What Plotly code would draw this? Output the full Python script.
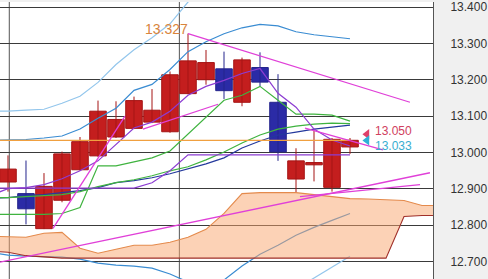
import plotly.graph_objects as go

# ---------------- data ----------------
candle_idx = list(range(20))
opens = [12.9185, 12.8866, 12.7901, 12.8683, 12.9522, 12.9904, 13.0423, 13.0661, 13.0833, 13.0568,
         13.1617, 13.2000, 13.2300, 13.1379, 13.2336, 13.1379, 12.9267, 12.9658, 12.9038, 13.0150]
highs = [12.9918, 12.9776, 12.9431, 13.0022, 13.0423, 13.1426, 13.1407, 13.1535, 13.1743, 13.2226,
         13.3270, 13.2819, 13.2773, 13.2609, 13.2754, 13.2153, 13.0114, 13.0606, 13.0396, 13.0396]
lows = [12.8920, 12.8019, 12.7890, 12.8628, 12.9494, 12.9877, 13.0396, 13.0642, 13.0806, 13.0541,
        13.1598, 13.1863, 13.1470, 13.1270, 13.1817, 12.9767, 12.8901, 12.9202, 12.8920, 12.9959]
closes = [12.9541, 12.8448, 12.9065, 12.9959, 13.0295, 13.1134, 13.0907, 13.1426, 13.1161, 13.2136,
          13.2519, 13.2472, 13.1699, 13.2546, 13.1934, 13.0013, 12.9767, 12.9721, 13.0360, 13.0333]

line_idx = list(range(-1, 20))
bb_up2 = [13.1134, 13.1134, 13.1161, 13.1188, 13.1352, 13.1543, 13.1926, 13.2418, 13.2827, 13.3155,
          13.3538, 13.4139, 13.455, None, None, None, None, None, None, None, None]
bb_up1 = [13.0328, 13.0341, 13.0355, 13.0396, 13.0451, 13.0642, 13.0942, 13.1215, 13.1707, 13.1871,
          13.2281, 13.2773, 13.3046, 13.3265, 13.3429, 13.3524, 13.3483, 13.3320, 13.3237, 13.3183, 13.3128]
bb_mid = [12.8729, 12.8757, 12.8811, 12.8838, 12.8893, 12.8948, 12.9030, 12.9166, 12.9221, 12.9303,
          12.9412, 12.9549, 12.9686, 12.9850, 13.0123, 13.0314, 13.0478, 13.0560, 13.0642, 13.0697, 13.0751]
bb_lo1 = [12.7254, 12.7172, 12.7144, 12.7130, 12.7117, 12.7062, 12.6953, 12.6898, 12.6871, 12.6817,
          12.6653, 12.6434, 12.6352, 12.6489, 12.6871, 12.7199, 12.7445, 12.7718, 12.7937, 12.8128, 12.8319]
bb_lo2 = [None, None, None, None, None, None, None, None, None, None,
          None, None, None, None, None, 12.5640, 12.5942, 12.6243, 12.6543, 12.6844, 12.7144]
ma_green_a = [12.8292, 12.8292, 12.8292, 12.8292, 12.8319, 12.8483, 12.9631, 12.9631, 12.9740, 12.9850,
              13.0040, 13.0505, 13.0997, 13.1434, 13.1571, 13.1817, 13.1434, 13.1052, 13.1052, 13.1024, 13.0860]
ma_green_b = [12.8757, 12.8757, 12.8784, 12.8811, 12.8838, 12.8920, 12.9057, 12.9166, 12.9248, 12.9358,
              12.9494, 12.9604, 12.9795, 13.0013, 13.0260, 13.0478, 13.0642, 13.0724, 13.0778, 13.0806, 13.0792]
ma_purple_a = [12.8811, 12.9002, 12.9030, 12.9112, 12.9276, 12.9494, 12.9767, 13.0205, 13.0670, 13.0833,
               13.1134, 13.1571, 13.1817, 13.1981, 13.2172, 13.2308, 13.1625, 13.1243, 13.0643, 13.0341, 13.0177]
ma_purple_b = [12.9016, 12.9016, 12.9016, 12.9016, 12.9016, 12.9016, 12.9016, 12.9016, 12.9016, 12.9166,
               12.9494, 12.9931, 12.9931, 12.9931, 12.9931, 12.9931, 12.9931, 12.9931, 12.9931, 12.9931, 12.9931]

cloud_idx = list(range(-1, 25))
cloud_top = [12.7691, 12.7677, 12.7664, 12.7773, 12.7800, 12.7363, 12.7226, 12.7336, 12.7445, 12.7445,
             12.7527, 12.7664, 12.7882, 12.8319, 12.8866, 12.8893, 12.8893, 12.8893, 12.8838, 12.8784,
             12.8729, 12.8716, 12.8702, 12.8675, 12.8538, 12.8538]
cloud_bot = [12.7281, 12.7254, 12.7158, 12.7117, 12.7090, 12.7090, 12.7090, 12.7090, 12.7090, 12.7090,
             12.7090, 12.7090, 12.7090, 12.7090, 12.7090, 12.7090, 12.7090, 12.7090, 12.7090, 12.7090,
             12.7090, 12.7090, 12.7090, 12.8237, 12.8265, 12.8265]

last_price = 13.033
ask_price = 13.050
peak_label = "13.327"
peak_idx = 10

# drawn trendlines (index, price)
trend_lines = [
    ([10, 22.33], [13.327, 13.138]),
    ([-1, 23.44], [12.6924, 12.944]),
    ([16.22, 22.89], [12.8784, 12.9112]),
    ([2.5, 6.5], [12.791, 13.0997]),
    ([7.5, 11.67], [13.0642, 13.1325]),
    ([16.5, 20.83], [13.067, 13.0068]),
]
y_ticks = [12.7, 12.8, 12.9, 13.0, 13.1, 13.2, 13.3, 13.4]
y_tick_text = ["12.700", "12.800", "12.900", "13.000", "13.100", "13.200", "13.300", "13.400"]
separators = [0.072, 9.52]

# ---------------- figure ----------------
fig = go.Figure()

UP_FILL, UP_LINE = "#C41E1E", "#A51414"
DN_FILL, DN_LINE = "#2B2BA6", "#24248C"

for up, fill, edge in [(True, UP_FILL, UP_LINE), (False, DN_FILL, DN_LINE)]:
    sel = [i for i in candle_idx if (closes[i] >= opens[i]) == up]
    # wicks
    wx, wy = [], []
    for i in sel:
        wx += [i, i, None]
        wy += [lows[i], highs[i], None]
    fig.add_trace(go.Scatter(x=wx, y=wy, mode="lines", line=dict(color=edge, width=1),
                             hoverinfo="skip", showlegend=False))
    # bodies
    fig.add_trace(go.Bar(x=sel, base=[min(opens[i], closes[i]) for i in sel],
                         y=[max(abs(closes[i] - opens[i]), 0.004) for i in sel],
                         width=0.92, marker=dict(color=fill, line=dict(color=edge, width=1)),
                         hoverinfo="skip", showlegend=False))

def add_line(x, y, color, width=1.2):
    fig.add_trace(go.Scatter(x=x, y=y, mode="lines", line=dict(color=color, width=width),
                             hoverinfo="skip", showlegend=False, connectgaps=False))

add_line(line_idx, bb_up2, "#93C6EC")
add_line(line_idx, bb_lo2, "#93C6EC")
add_line(line_idx, bb_up1, "#3A8CD2")
add_line(line_idx, bb_lo1, "#3A8CD2")

# cloud (semi-transparent, over the lower bands)
fig.add_trace(go.Scatter(x=cloud_idx + cloud_idx[::-1], y=cloud_top + cloud_bot[::-1],
                         mode="lines", fill="toself", fillcolor="rgba(249,165,110,0.5)",
                         line=dict(width=0), hoverinfo="skip", showlegend=False))
add_line(cloud_idx, cloud_top, "#E48A4C", 1.1)
add_line(cloud_idx, cloud_bot, "#A0302A", 1.1)

add_line(line_idx, bb_mid, "#24399C")
add_line(line_idx, ma_green_b, "#3FB33F")
add_line(line_idx, ma_green_a, "#3FB33F")
add_line(line_idx, ma_purple_b, "#8C3CD2")
add_line(line_idx, ma_purple_a, "#8C3CD2")
add_line([line_idx[0], candle_idx[-1]], [last_price, last_price], "#F0A040", 1.2)

for tx, ty in trend_lines:
    add_line(tx, ty, "#E040D8", 1.3)

# price markers
fig.add_trace(go.Scatter(x=[19.94], y=[ask_price], mode="markers",
                         marker=dict(symbol="triangle-left", size=9, color="#E0406A"),
                         hoverinfo="skip", showlegend=False))
fig.add_trace(go.Scatter(x=[19.94], y=[last_price], mode="markers",
                         marker=dict(symbol="triangle-left", size=9, color="#2FB0D8"),
                         hoverinfo="skip", showlegend=False))

lab_font = "Liberation Sans Narrow, Arial Narrow, Liberation Sans, Arial, sans-serif"
fig.add_annotation(x=20.25, y=ask_price, text="13.050", showarrow=False, xanchor="left",
                   yanchor="middle", yshift=3, font=dict(family=lab_font, size=12, color="#D0405E"))
fig.add_annotation(x=20.25, y=last_price, text="13.033", showarrow=False, xanchor="left",
                   yanchor="middle", yshift=-6, font=dict(family=lab_font, size=12, color="#38AED0"))
fig.add_annotation(x=peak_idx, y=highs[peak_idx], text=peak_label, showarrow=False, xanchor="right",
                   yanchor="bottom", xshift=2, yshift=-5, font=dict(family=lab_font, size=14, color="#D8843C"))

for sx in separators:
    fig.add_shape(type="line", x0=sx, x1=sx, y0=0, y1=1, xref="x", yref="paper",
                  line=dict(color="#555555", width=1), layer="below")

fig.update_layout(
    width=488, height=279,
    margin=dict(l=0, r=55, t=0, b=0),
    paper_bgcolor="#F0F0F0", plot_bgcolor="#FFFFFF",
    barmode="overlay",
    showlegend=False,
    xaxis=dict(range=[-0.444, 23.61], showgrid=False, showticklabels=False, zeroline=False,
               fixedrange=True),
    yaxis=dict(range=[12.6516, 13.4139], side="right", tickvals=y_ticks, ticktext=y_tick_text,
               showgrid=True, gridcolor="#3A3A3A", gridwidth=1, zeroline=False,
               showline=True, linecolor="#555555", linewidth=1,
               ticks="outside", ticklen=14, tickcolor="rgba(0,0,0,0)",
               ticklabeloverflow="allow",
               tickfont=dict(family=lab_font, size=12, color="#333333")),
)

fig.write_html("out.html")
